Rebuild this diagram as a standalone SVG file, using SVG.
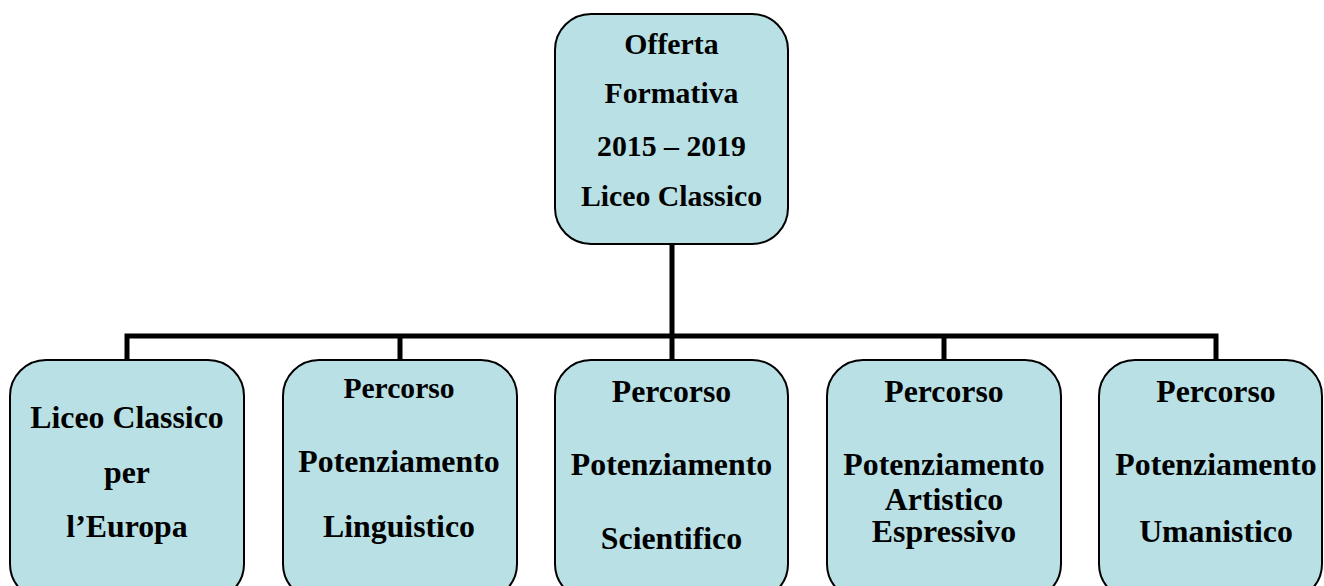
<svg xmlns="http://www.w3.org/2000/svg" width="1324" height="586" viewBox="0 0 1324 586">
<style>
.box{fill:#b9e0e4;stroke:#000;stroke-width:2}
.t{font-family:"Liberation Serif","Times New Roman",serif;font-weight:bold;fill:#000;text-anchor:middle}
.top{font-size:29.8px}
.b{font-size:31.8px}
.s{font-size:29.6px}
.c{stroke:#000;stroke-width:5;fill:none}
</style>
<rect width="1324" height="586" fill="#fff"/>
<g id="connectors">
<path class="c" d="M672 244V336M127 360V336H1216V360M400 336V360M672 336V360M944 336V360"/>
</g>
<g id="root">
<rect class="box" x="555" y="14" width="233" height="230" rx="36"/>
<text class="t top" x="671.5" y="54">Offerta</text>
<text class="t top" x="671.5" y="103">Formativa</text>
<text class="t top" x="671.5" y="156">2015 – 2019</text>
<text class="t top" x="671.5" y="206">Liceo Classico</text>
</g>
<g id="n1">
<rect class="box" x="10" y="360" width="234" height="240" rx="36"/>
<text class="t b" x="127" y="428">Liceo Classico</text>
<text class="t b" x="127" y="483">per</text>
<text class="t b" x="127" y="537">l’Europa</text>
</g>
<g id="n2">
<rect class="box" x="283" y="360" width="234" height="240" rx="36"/>
<text class="t s" x="399" y="398">Percorso</text>
<text class="t b" x="399" y="472">Potenziamento</text>
<text class="t b" x="399" y="537">Linguistico</text>
</g>
<g id="n3">
<rect class="box" x="555" y="360" width="233" height="240" rx="36"/>
<text class="t b" x="671.5" y="402">Percorso</text>
<text class="t b" x="671.5" y="475">Potenziamento</text>
<text class="t b" x="671.5" y="549">Scientifico</text>
</g>
<g id="n4">
<rect class="box" x="827" y="360" width="234" height="240" rx="36"/>
<text class="t b" x="944" y="402">Percorso</text>
<text class="t b" x="944" y="475">Potenziamento</text>
<text class="t b" x="944" y="510">Artistico</text>
<text class="t b" x="944" y="542">Espressivo</text>
</g>
<g id="n5">
<rect class="box" x="1099" y="360" width="223" height="240" rx="36"/>
<text class="t b" x="1216" y="402">Percorso</text>
<text class="t b" x="1216" y="475">Potenziamento</text>
<text class="t b" x="1216" y="542">Umanistico</text>
</g>
</svg>
